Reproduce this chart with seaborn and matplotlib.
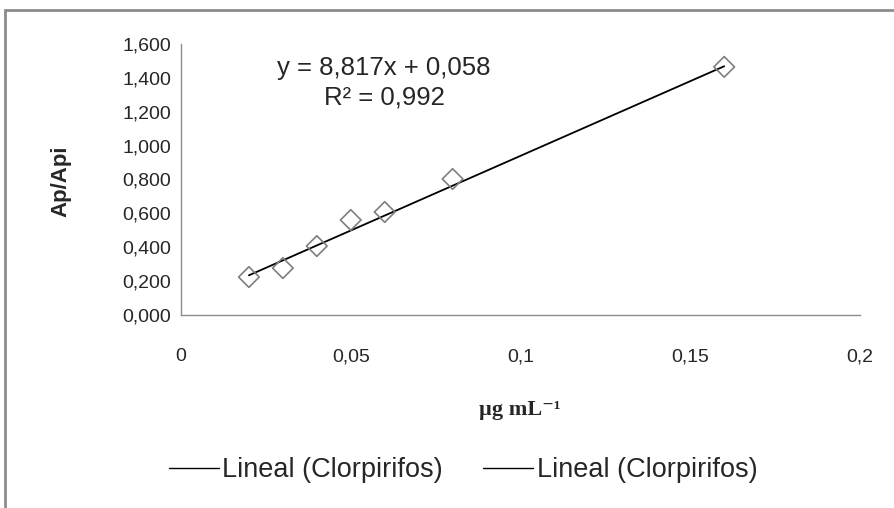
import numpy as np
import pandas as pd
import matplotlib
matplotlib.use("Agg")
import matplotlib.pyplot as plt
from matplotlib.lines import Line2D
from matplotlib.patches import Rectangle
import seaborn as sns

# Data
conc = [0.02, 0.03, 0.04, 0.05, 0.06, 0.08, 0.16]
ratio = [0.224, 0.277, 0.407, 0.561, 0.608, 0.803, 1.465]
slope = 8.817
intercept = 0.058
r2 = 0.992
x_ticks = [0, 0.05, 0.1, 0.15, 0.2]
x_tick_labels = ["0", "0,05", "0,1", "0,15", "0,2"]
y_ticks = [0, 0.2, 0.4, 0.6, 0.8, 1.0, 1.2, 1.4, 1.6]
y_tick_labels = ["0,000", "0,200", "0,400", "0,600", "0,800", "1,000", "1,200", "1,400", "1,600"]
legend_labels = ["Lineal (Clorpirifos)", "Lineal (Clorpirifos)"]

sns.set_theme(style="white")
plt.rcParams['font.family'] = ['Liberation Sans', 'DejaVu Sans']

W, H = 894, 508
fig = plt.figure(figsize=(W / 100, H / 100), dpi=100)
ax = fig.add_axes([181 / W, 1 - 315 / H, (860 - 181) / W, (315 - 44) / H])

df = pd.DataFrame({"x": conc, "y": ratio})
fit_x = [min(conc), max(conc)]
fit_df = pd.DataFrame({"x": fit_x, "y": [slope * v + intercept for v in fit_x]})

sns.lineplot(data=fit_df, x="x", y="y", ax=ax, color="black", linewidth=1.3, zorder=2)
sns.scatterplot(data=df, x="x", y="y", ax=ax, marker="D", s=110, facecolor="none",
                edgecolor="#7f7f7f", linewidth=1.2, zorder=3)

ax.set_xlim(0, 0.2)
ax.set_ylim(0, 1.6)
ax.set_xticks(x_ticks)
ax.set_xticklabels(x_tick_labels, fontsize=14)
ax.set_yticks(y_ticks)
ax.set_yticklabels(y_tick_labels, fontsize=14)
ax.tick_params(axis="x", length=0, pad=24)
ax.tick_params(axis="y", length=0, pad=7)
for s in ["top", "right"]:
    ax.spines[s].set_visible(False)
for s in ["left", "bottom"]:
    ax.spines[s].set_color("#8c8c8c")
    ax.spines[s].set_linewidth(1.0)

ax.set_xlabel("")
ax.set_ylabel("")
fig.text(520 / W, 1 - 410 / H, "µg mL⁻¹", ha="center", va="center",
         fontsize=16, fontweight="bold", family=["Liberation Serif", "DejaVu Serif"])
fig.text(61 / W, 1 - 181 / H, "Ap/Api", ha="center", va="center", rotation=90,
         fontsize=16, fontweight="bold")

fig.text(384 / W, 1 - 68 / H, "y = 8,817x + 0,058", ha="center", va="center", fontsize=18.5)
fig.text(384 / W, 1 - 97 / H, "R² = 0,992", ha="center", va="center", fontsize=18.5)

handles = [Line2D([], [], color="black", linewidth=1.0) for _ in legend_labels]
fig.legend(handles, legend_labels, loc="center", bbox_to_anchor=(463 / W, 1 - 470 / H),
           ncol=2, frameon=False, fontsize=19.5, handlelength=1.85, handletextpad=0.12,
           columnspacing=1.5)

fig.add_artist(Rectangle((5 / W, -0.1), 1.2, 1 - 10 / H + 0.1, transform=fig.transFigure,
                         fill=False, edgecolor="#8c8c8c", linewidth=2.0))

fig.savefig("out.png", dpi=100)
